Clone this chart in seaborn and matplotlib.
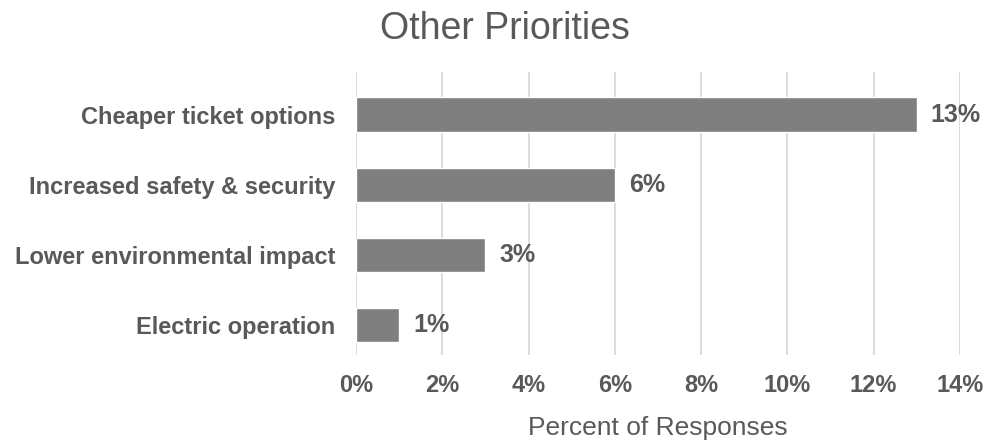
import matplotlib
matplotlib.use("Agg")
import matplotlib.pyplot as plt
import seaborn as sns
import pandas as pd
from matplotlib.ticker import PercentFormatter

# === Datos ===
categories = ["Cheaper ticket options", "Increased safety & security",
              "Lower environmental impact", "Electric operation"]
percents = [13, 6, 3, 1]
xticks = [0, 2, 4, 6, 8, 10, 12, 14]

df = pd.DataFrame({"category": categories, "percent": percents})

sns.set_style("white")
plt.rcParams["font.family"] = ["Liberation Sans", "DejaVu Sans"]
text_color = "#595959"

fig = plt.figure(figsize=(9.86, 4.41), dpi=100)
ax = fig.add_axes([0.361, 0.195, 0.6126, 0.642])

sns.barplot(data=df, x="percent", y="category", color="#7f7f7f",
            saturation=1, width=0.49, ax=ax, orient="h")

ax.set_xlim(0, 14)
ax.set_ylim(3.43, -0.61)
ax.set_xticks(xticks)
ax.xaxis.set_major_formatter(PercentFormatter(decimals=0))
ax.grid(True, axis="x", color="#d9d9d9", linewidth=1.3)
ax.set_axisbelow(True)
for s in ax.spines.values():
    s.set_visible(False)
ax.tick_params(axis="both", length=0)
ax.tick_params(axis="x", pad=14)
ax.tick_params(axis="y", pad=15)

for lbl in ax.get_xticklabels() + ax.get_yticklabels():
    lbl.set_fontsize(17)
    lbl.set_fontweight("bold")
    lbl.set_color(text_color)

# etiquetas de valor
for cont in ax.containers:
    ax.bar_label(cont, labels=[f"{v}%" for v in percents], padding=10,
                 fontsize=18, fontweight="bold", color=text_color)

ax.set_ylabel("")
ax.set_xlabel("Percent of Responses", fontsize=19, color=text_color, labelpad=13)
fig.suptitle("Other Priorities", fontsize=27, color=text_color, x=0.512, y=0.975)

plt.savefig("out.png", dpi=100)
plt.close()
